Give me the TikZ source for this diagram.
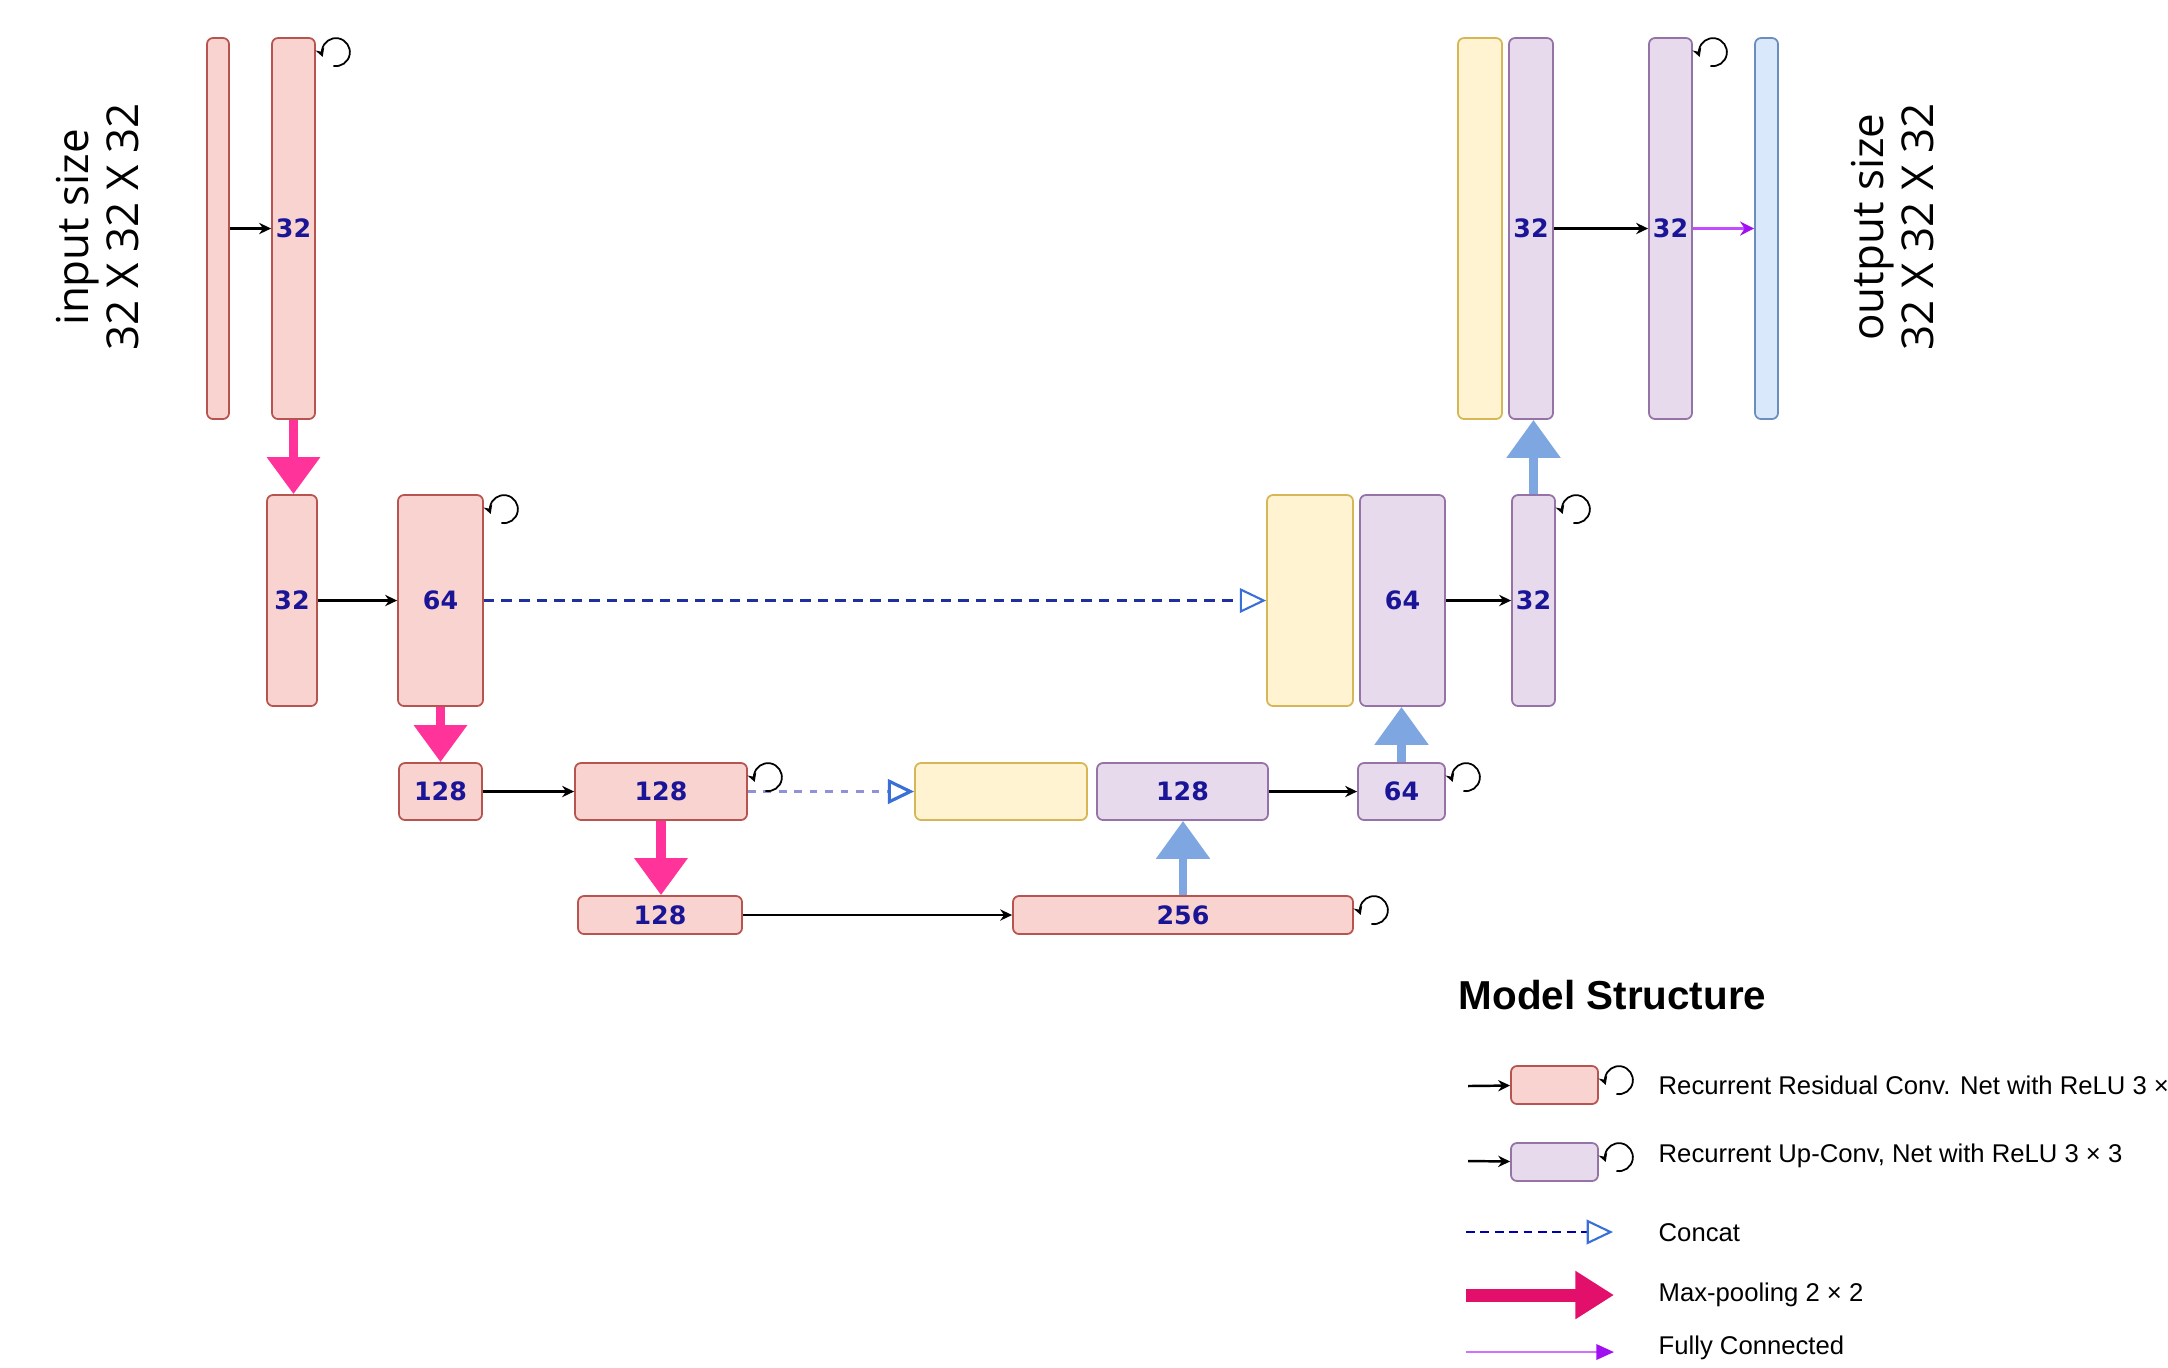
\documentclass[tikz,border=0pt]{standalone}
\usepackage{fontspec}
\setmainfont{Liberation Sans}
\newfontfamily\numfont{DejaVu Sans}
\newfontfamily\sidefont{Open Sans}
\usetikzlibrary{arrows.meta}

\definecolor{encfill}{HTML}{F8D3CF}
\definecolor{encline}{HTML}{B85450}
\definecolor{decfill}{HTML}{E6DAEC}
\definecolor{decline}{HTML}{9673A6}
\definecolor{catfill}{HTML}{FFF3D2}
\definecolor{catline}{HTML}{D6B656}
\definecolor{outfill}{HTML}{DAE8FC}
\definecolor{outln}{HTML}{6C8EBF}
\definecolor{numblue}{HTML}{1A1497}
\definecolor{poolpink}{HTML}{FF3399}
\definecolor{legpink}{HTML}{E3106B}
\definecolor{upblue}{HTML}{7EA6E0}
\definecolor{catblue}{HTML}{1F2F9F}
\definecolor{catdotc}{HTML}{8F93D6}
\definecolor{tipblue}{HTML}{3A6FD8}
\definecolor{fcviolet}{HTML}{C24DFF}
\definecolor{fctip}{HTML}{A010F0}

\newcommand{\recurloop}[1]{%
  \draw[recur] ([shift={(0.2,-0.15)}]#1.north east) ++(-100:0.14)
    arc[start angle=-100, end angle=200, radius=0.14];}

\begin{document}
\begin{tikzpicture}[
  blk/.style={draw, rounded corners=0.06cm, line width=0.5pt, inner sep=0pt,
    text=numblue, font=\numfont\bfseries\fontsize{7.2pt}{8.5pt}\selectfont},
  enc/.style={blk, draw=encline, fill=encfill},
  dec/.style={blk, draw=decline, fill=decfill},
  cat/.style={blk, draw=catline, fill=catfill},
  outb/.style={blk, draw=outln, fill=outfill},
  fwd/.style={-{Stealth[length=3.4pt,width=3.2pt]}, line width=0.7pt},
  fcarr/.style={-{Stealth[length=4pt,width=4pt,color=fctip]}, line width=0.9pt, color=fcviolet},
  poolarr/.style={-{Triangle[length=10.5pt,width=14.5pt]}, line width=2.8pt, color=poolpink},
  uparr/.style={-{Triangle[length=10.8pt,width=14.8pt]}, line width=2.5pt, color=upblue},
  catlink/.style={-{Triangle[open,length=7.5pt,width=7pt,color=tipblue]}, line width=0.6pt,
    color=catblue, dash pattern=on 3pt off 2pt},
  catdot/.style={-{Triangle[open,length=7.5pt,width=7pt,color=tipblue]}, line width=0.9pt,
    color=catdotc, dash pattern=on 2.2pt off 2.2pt},
  recur/.style={-{Stealth[length=2.4pt,width=2.6pt]}, line width=0.5pt},
  sidelbl/.style={rotate=90, align=center, inner sep=0pt,
    font=\sidefont\fontsize{12.5pt}{14.3pt}\selectfont},
  legtxt/.style={anchor=west, inner sep=0pt, font=\fontsize{7.3pt}{8.5pt}\selectfont},
]
\useasboundingbox (0,0) rectangle (21.68,-13.67);

% encoder
\node[enc, minimum width=0.22cm, minimum height=3.81cm] (inp) at (2.18,-2.285) {};
\node[enc, minimum width=0.43cm, minimum height=3.81cm] (e1) at (2.935,-2.285) {32};
\node[enc, minimum width=0.50cm, minimum height=2.11cm] (e2a) at (2.92,-6.005) {32};
\node[enc, minimum width=0.85cm, minimum height=2.11cm] (e2b) at (4.405,-6.005) {64};
\node[enc, minimum width=0.83cm, minimum height=0.57cm] (e3a) at (4.405,-7.915) {128};
\node[enc, minimum width=1.72cm, minimum height=0.57cm] (e3b) at (6.61,-7.915) {128};
\node[enc, minimum width=1.64cm, minimum height=0.38cm] (e4a) at (6.60,-9.15) {128};
\node[enc, minimum width=3.40cm, minimum height=0.38cm] (e4b) at (11.83,-9.15) {256};

% decoder
\node[cat, minimum width=1.72cm, minimum height=0.57cm] (c3) at (10.01,-7.915) {};
\node[dec, minimum width=1.71cm, minimum height=0.57cm] (d3a) at (11.825,-7.915) {128};
\node[dec, minimum width=0.87cm, minimum height=0.57cm] (d3b) at (14.015,-7.915) {64};
\node[cat, minimum width=0.86cm, minimum height=2.11cm] (c2) at (13.10,-6.005) {};
\node[dec, minimum width=0.85cm, minimum height=2.11cm] (d2a) at (14.025,-6.005) {64};
\node[dec, minimum width=0.43cm, minimum height=2.11cm] (d2b) at (15.335,-6.005) {32};
\node[cat, minimum width=0.44cm, minimum height=3.81cm] (c1) at (14.80,-2.285) {};
\node[dec, minimum width=0.44cm, minimum height=3.81cm] (d1a) at (15.31,-2.285) {32};
\node[dec, minimum width=0.43cm, minimum height=3.81cm] (d1b) at (16.705,-2.285) {32};
\node[outb, minimum width=0.23cm, minimum height=3.81cm] (outp) at (17.665,-2.285) {};

\draw[fwd] (inp) -- (e1);
\draw[fwd] (e2a) -- (e2b);
\draw[fwd] (e3a) -- (e3b);
\draw[fwd] (e4a) -- (e4b);
\draw[fwd] (d3a) -- (d3b);
\draw[fwd] (d2a) -- (d2b);
\draw[fwd] (d1a) -- (d1b);
\draw[fcarr] (d1b) -- (outp);

\draw[poolarr] (e1.south) -- (e1.south |- e2a.north);
\draw[poolarr] (e2b) -- (e3a);
\draw[poolarr] (e3b.south) -- (e3b.south |- e4a.north);
\draw[uparr] (e4b.north) -- (e4b.north |- d3a.south);
\draw[uparr] (d3b.north) -- (d3b.north |- d2a.south);
\draw[uparr] (d2b.north) -- (d2b.north |- d1a.south);

\draw[catlink] (e2b) -- (c2);
\draw[catdot] (e3b) -- (c3);

\recurloop{e1}
\recurloop{e2b}
\recurloop{e3b}
\recurloop{e4b}
\recurloop{d3b}
\recurloop{d2b}
\recurloop{d1b}

\node[sidelbl] (insize) at (0.975,-2.27) {input size\\32 X 32 X 32};
\node[sidelbl] (outsize) at (18.925,-2.27) {output size\\32 X 32 X 32};

% legend
\node[anchor=base west, inner sep=0pt, font=\bfseries\fontsize{11.5pt}{13pt}\selectfont]
  (legtitle) at (14.58,-10.09) {Model Structure};

\node[enc, minimum width=0.87cm, minimum height=0.38cm] (lg1) at (15.545,-10.85) {};
\coordinate (la1) at (14.68,-10.86);
\draw[fwd] (la1) -- (lg1);
\recurloop{lg1}
\node[legtxt] (lt1) at (16.58,-10.85) {Recurrent Residual Conv. Net with ReLU 3 ×};

\node[dec, minimum width=0.87cm, minimum height=0.38cm] (lg2) at (15.545,-11.62) {};
\coordinate (la2) at (14.68,-11.61);
\draw[fwd] (la2) -- (lg2);
\recurloop{lg2}
\node[legtxt] (lt2) at (16.58,-11.56) {Recurrent Up-Conv, Net with ReLU 3 × 3};

\coordinate (lc1) at (14.66,-12.32);
\coordinate (lc2) at (16.13,-12.32);
\draw[catlink, dash pattern=on 2.5pt off 1.6pt, color=blue!70!black] (lc1) -- (lc2);
\node[legtxt] (lt3) at (16.58,-12.33) {Concat};

\coordinate (lp1) at (14.66,-12.95);
\coordinate (lp2) at (16.14,-12.95);
\draw[-{Triangle[length=11pt,width=13pt]}, line width=3.7pt, color=legpink] (lp1) -- (lp2);
\node[legtxt] (lt4) at (16.58,-12.95) {Max-pooling 2 × 2};

\coordinate (lf1) at (14.66,-13.52);
\coordinate (lf2) at (16.14,-13.52);
\draw[-{Triangle[length=5pt,width=4.3pt,color=fctip]}, line width=0.8pt, color=fcviolet!80] (lf1) -- (lf2);
\node[legtxt] (lt5) at (16.58,-13.48) {Fully Connected};
\end{tikzpicture}
\end{document}
